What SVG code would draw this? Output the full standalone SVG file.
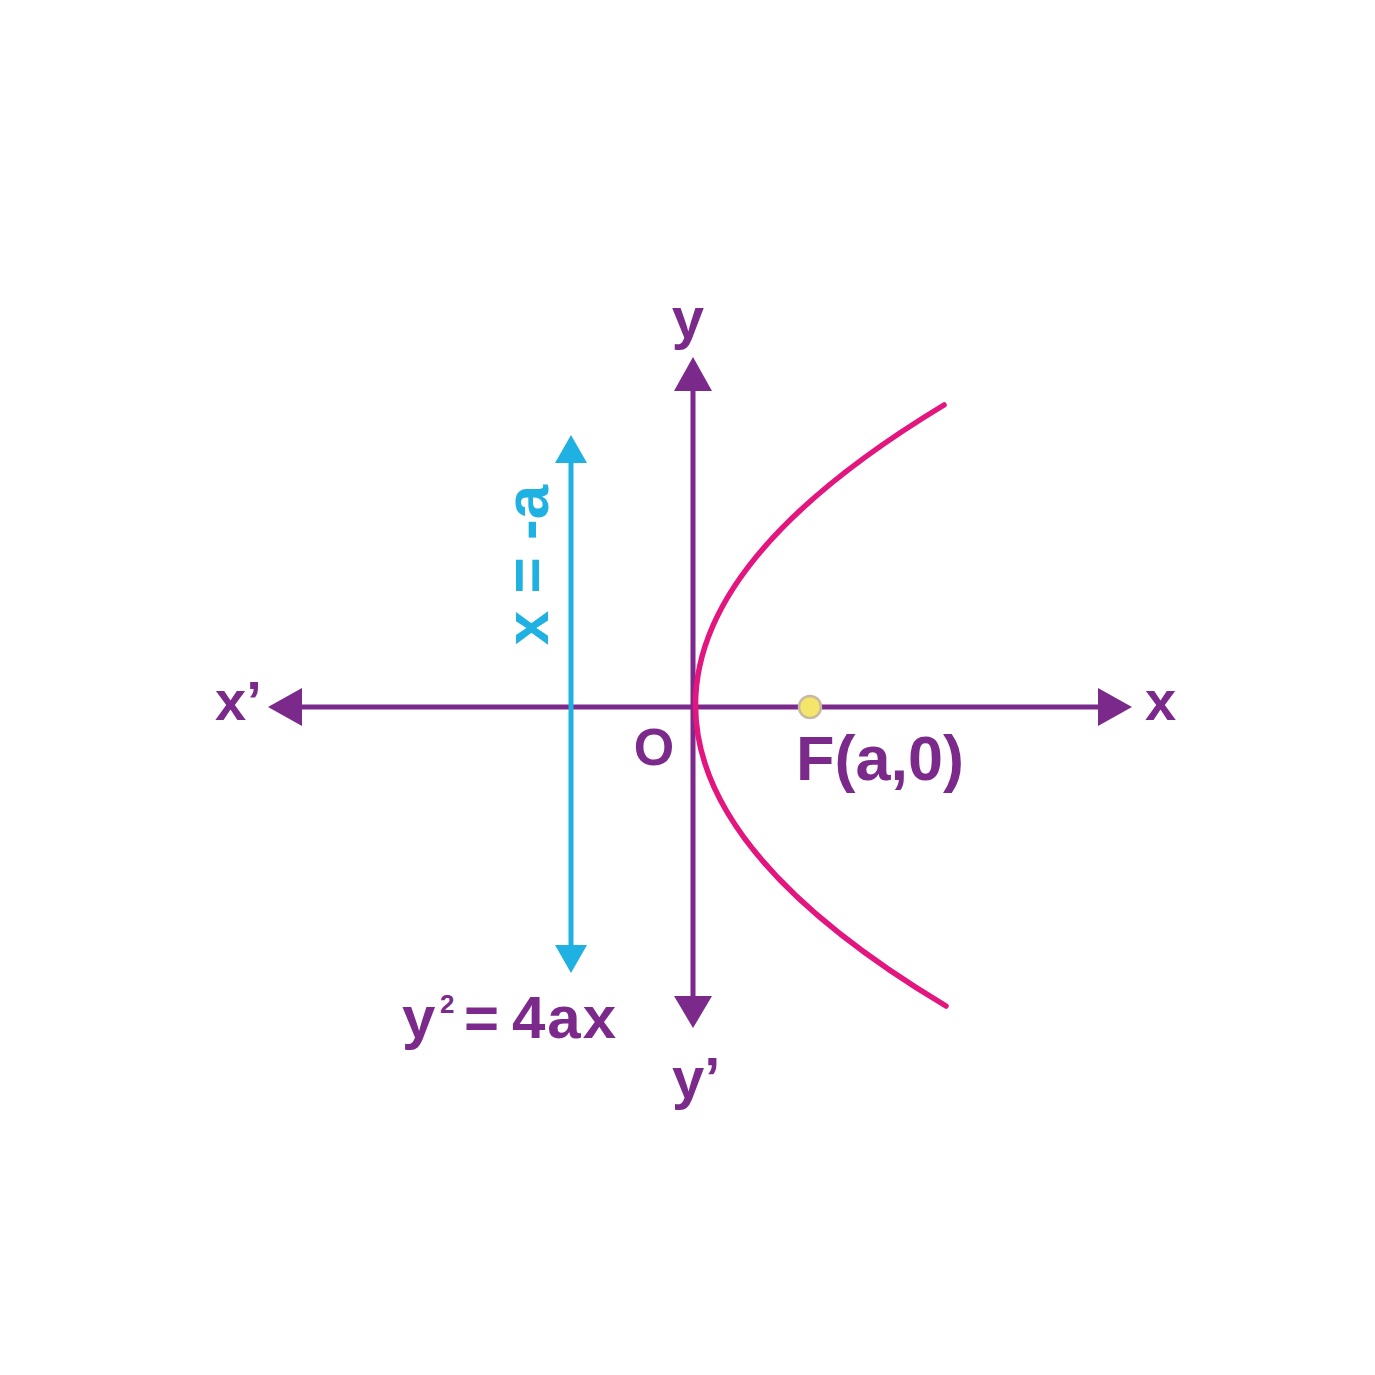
<svg xmlns="http://www.w3.org/2000/svg" width="1375" height="1375" viewBox="0 0 1375 1375">
<style>
.ax{stroke:#7b2a8b;stroke-width:5;fill:none}
.ah{fill:#7b2a8b}
.bl{stroke:#1fb1e1;stroke-width:5;fill:none}
.bh{fill:#1fb1e1}
.lbl{font-family:"Liberation Sans",Arial,sans-serif;font-weight:bold;fill:#7b2a8b}
.blt{font-family:"Liberation Sans",Arial,sans-serif;font-weight:bold;fill:#1fb1e1}
</style>
<rect width="1375" height="1375" fill="#ffffff"/>
<g id="connectors">
  <g id="x-axis">
    <line class="ax" x1="298" y1="707" x2="1102" y2="707"/>
    <polygon class="ah" points="268,707 302,688 302,726"/>
    <polygon class="ah" points="1132,707 1098,688 1098,726"/>
  </g>
  <g id="y-axis">
    <line class="ax" x1="693" y1="388" x2="693" y2="1000"/>
    <polygon class="ah" points="693,357 674,391 712,391"/>
    <polygon class="ah" points="693,1028 674,996 712,996"/>
  </g>
  <g id="directrix">
    <line class="bl" x1="571" y1="460" x2="571" y2="948"/>
    <polygon class="bh" points="571,435 555,463 587,463"/>
    <polygon class="bh" points="571,973 555,945 587,945"/>
  </g>
  <path id="parabola" d="M944,405 Q446,706 946,1006" fill="none" stroke="#e3157f" stroke-width="5.5" stroke-linecap="round"/>
</g>
<g id="focus">
  <circle cx="810" cy="707" r="11" fill="#f4e66a" stroke="#c9b9a0" stroke-width="2.5"/>
  <text class="lbl" x="796" y="780" font-size="63">F(a,0)</text>
</g>
<g id="label-y"><text class="lbl" x="688" y="338" font-size="58" text-anchor="middle">y</text></g>
<g id="label-y-prime"><text class="lbl" x="672" y="1098" font-size="58">y’</text></g>
<g id="label-x-prime"><text class="lbl" x="215" y="720" font-size="56">x’</text></g>
<g id="label-x"><text class="lbl" x="1145" y="720" font-size="56">x</text></g>
<g id="label-origin"><text class="lbl" x="654" y="765" font-size="52" text-anchor="middle">O</text></g>
<g id="label-directrix"><text class="blt" x="548" y="565" font-size="62" text-anchor="middle" transform="rotate(-90 548 565)">x = -a</text></g>
<g id="label-equation">
  <text class="lbl" y="1038" font-size="60"><tspan x="402">y</tspan><tspan x="440" y="1013" font-size="26">2</tspan><tspan x="464" y="1038">=</tspan><tspan x="512" y="1038" letter-spacing="2">4ax</tspan></text>
</g>
</svg>
